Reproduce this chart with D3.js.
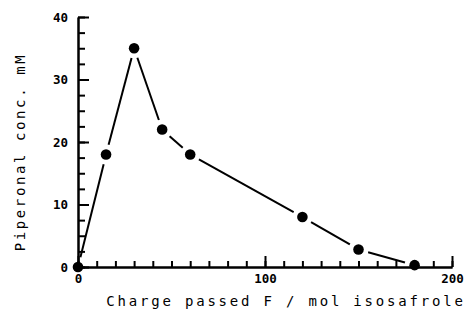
<!DOCTYPE html>
<html>
<head>
<meta charset="utf-8">
<script src="https://cdn.jsdelivr.net/npm/d3@7"></script>
<style>
  body { margin: 0; background: white; }
  text { font-family: "DejaVu Sans Mono", monospace; fill: black; }
</style>
</head>
<body>
<div id="chart"></div>
<script>
// datos
const carga = [0, 15, 30, 45, 60, 120, 150, 180];
const piperonal = [0, 18, 35, 22, 18, 8, 2.8, 0.3];
const ticksX = [0, 100, 200];
const ticksY = [0, 10, 20, 30, 40];

const ancho = 471;
const alto = 319;
const margen = { superior: 17, derecho: 19, inferior: 52, izquierdo: 78 };
const anchoGrafico = ancho - margen.izquierdo - margen.derecho;
const altoGrafico = alto - margen.superior - margen.inferior;

const svg = d3.select("#chart")
  .append("svg")
  .attr("width", ancho)
  .attr("height", alto);

const grafico = svg.append("g")
  .attr("transform", `translate(${margen.izquierdo},${margen.superior})`);

const escalaX = d3.scaleLinear().domain([0, 200]).range([0, anchoGrafico]);
const escalaY = d3.scaleLinear().domain([0, 40]).range([altoGrafico, 0]);

// ticks menores
const menorX = grafico.append("g")
  .attr("transform", `translate(0,${altoGrafico})`)
  .call(d3.axisBottom(escalaX).tickValues(d3.range(0, 201, 10)).tickFormat("").tickSize(-6).tickSizeOuter(0));
const menorY = grafico.append("g")
  .call(d3.axisLeft(escalaY).tickValues(d3.range(0, 40.1, 2.5)).tickFormat("").tickSize(-7).tickSizeOuter(0));

// ejes principales
const ejeX = grafico.append("g")
  .attr("transform", `translate(0,${altoGrafico})`)
  .call(d3.axisBottom(escalaX).tickValues(ticksX).tickSize(-11).tickSizeOuter(0).tickPadding(7));
const ejeY = grafico.append("g")
  .call(d3.axisLeft(escalaY).tickValues(ticksY).tickSize(-11).tickSizeOuter(0).tickPadding(10));

grafico.selectAll(".domain")
  .attr("stroke", "black")
  .attr("stroke-width", 2);
grafico.selectAll(".tick line")
  .style("stroke", "black")
  .style("stroke-width", "2px");
grafico.selectAll(".tick text")
  .attr("font-size", 12.5)
  .attr("font-weight", "bold")
  .style("font-family", "DejaVu Sans Mono, monospace");
ejeY.selectAll(".tick text").attr("dy", "0.35em");

// segmentos con huecos alrededor de los puntos
const puntos = carga.map((c, i) => [escalaX(c), escalaY(piperonal[i])]);
const hueco = 10;
const segmentos = d3.pairs(puntos).map(([a, b]) => {
  const dx = b[0] - a[0], dy = b[1] - a[1];
  const L = Math.hypot(dx, dy);
  const ux = dx / L, uy = dy / L;
  return [a[0] + ux * hueco, a[1] + uy * hueco, b[0] - ux * hueco, b[1] - uy * hueco];
});

grafico.selectAll(".segmento")
  .data(segmentos)
  .enter()
  .append("line")
  .attr("class", "segmento")
  .attr("x1", d => d[0])
  .attr("y1", d => d[1])
  .attr("x2", d => d[2])
  .attr("y2", d => d[3])
  .attr("stroke", "black")
  .attr("stroke-width", 2);

grafico.selectAll(".punto")
  .data(carga)
  .enter()
  .append("circle")
  .attr("class", "punto")
  .attr("cx", d => escalaX(d))
  .attr("cy", (d, i) => escalaY(piperonal[i]))
  .attr("r", 5.3)
  .attr("fill", "black");

// titulos
svg.append("text")
  .attr("x", 286)
  .attr("y", 306)
  .attr("text-anchor", "middle")
  .attr("font-size", 14)
  .attr("letter-spacing", 2.8)
  .text("Charge passed F / mol isosafrole");

svg.append("text")
  .attr("transform", "translate(25,152) rotate(-90)")
  .attr("text-anchor", "middle")
  .attr("font-size", 14)
  .attr("letter-spacing", 2.6)
  .text("Piperonal conc. mM");
</script>
</body>
</html>
